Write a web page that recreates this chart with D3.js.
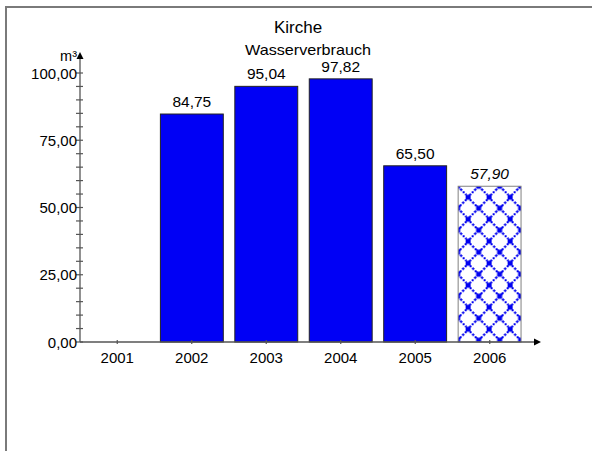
<!DOCTYPE html>
<html>
<head>
<meta charset="utf-8">
<script src="https://cdn.jsdelivr.net/npm/d3@7/dist/d3.min.js"></script>
<style>
  html, body { margin: 0; padding: 0; background: #fff; }
  svg { display: block; font-family: Arial, "Liberation Sans", sans-serif; }
</style>
</head>
<body>
<svg id="chart" width="592" height="451"></svg>
<script>
// Water consumption per year (m³); the last year is a forecast
const years = ["2001", "2002", "2003", "2004", "2005", "2006"];
const values = [null, 84.75, 95.04, 97.82, 65.50, 57.90];
const estimated = [false, false, false, false, false, true];
const yTicks = [0, 25, 50, 75, 100];
const yMinorTicks = d3.range(0, 101, 5);
const title = "Kirche";
const subtitle = "Wasserverbrauch";
const unit = "m³";

const fmt = v => v.toFixed(2).replace(".", ",");

const svg = d3.select("#chart");
const W = 592, H = 451;
const plot = { left: 80, right: 527, top: 73, bottom: 342 };

// outer frame (top and left edges)
svg.append("path")
  .attr("d", `M6,${H} V7 H${W}`)
  .attr("fill", "none")
  .attr("stroke", "#7a7a7a")
  .attr("stroke-width", 2);

const x = d3.scaleBand().domain(years).range([plot.left, plot.right]).paddingInner(0.155).paddingOuter(0.08);
const xc = d3.scalePoint().domain(years).range([plot.left, plot.right]).padding(0.5);
const y = d3.scaleLinear().domain([0, 100]).range([plot.bottom, plot.top]);

// hatch pattern for the forecast bar
const defs = svg.append("defs");
const iEst = estimated.indexOf(true);
const pat = defs.append("pattern")
  .attr("id", "forecast")
  .attr("patternUnits", "userSpaceOnUse")
  .attr("width", 21).attr("height", 22)
  .attr("x", x(years[iEst]) - 0.5).attr("y", y(values[iEst]));
pat.append("rect").attr("width", 21).attr("height", 22).attr("fill", "#fff");
pat.append("path")
  .attr("d", "M0,0 L21,22 M21,0 L0,22")
  .attr("stroke", "#0000f0").attr("stroke-width", 2)
  .attr("stroke-dasharray", "2.4,1.2")
  .attr("shape-rendering", "crispEdges");
[[10.5, 11], [0, 0], [21, 0], [0, 22], [21, 22]].forEach(([cx, cy]) => {
  pat.append("rect").attr("x", cx - 2.5).attr("y", cy - 2.5).attr("width", 5).attr("height", 5).attr("fill", "#0000f0");
});

// titles
svg.append("text").attr("x", 298).attr("y", 33).attr("text-anchor", "middle")
  .attr("font-size", 17).attr("fill", "#000").text(title);
svg.append("text").attr("x", 308).attr("y", 55).attr("text-anchor", "middle")
  .attr("font-size", 15).attr("fill", "#000")
  .attr("textLength", 126).attr("lengthAdjust", "spacingAndGlyphs")
  .text(subtitle);

// bars
const data = years.map((yr, i) => ({ yr, v: values[i], est: estimated[i] })).filter(d => d.v != null);
svg.append("g").selectAll("rect").data(data).join("rect")
  .attr("x", d => x(d.yr))
  .attr("y", d => y(d.v))
  .attr("width", x.bandwidth())
  .attr("height", d => y(0) - y(d.v))
  .attr("fill", d => d.est ? "url(#forecast)" : "#0000f5")
  .attr("stroke", d => d.est ? "#808080" : "#222")
  .attr("stroke-width", 1);

// value labels
svg.append("g").selectAll("text").data(data).join("text")
  .attr("x", d => x(d.yr) + x.bandwidth() / 2)
  .attr("y", d => y(d.v) - 7)
  .attr("text-anchor", "middle")
  .attr("font-size", 15.5)
  .attr("font-style", d => d.est ? "italic" : "normal")
  .attr("fill", "#000")
  .text(d => fmt(d.v));

const axisColor = "#555";

// y axis
const gy = svg.append("g");
gy.append("line").attr("x1", plot.left).attr("x2", plot.left)
  .attr("y1", y(0)).attr("y2", 56).attr("stroke", axisColor).attr("stroke-width", 1.3);
gy.append("path").attr("d", `M${plot.left},52 l-3.5,7 h7 z`).attr("fill", "#000");
gy.selectAll("line.t").data(yMinorTicks).join("line").attr("class", "t")
  .attr("x1", plot.left - 4).attr("x2", plot.left + 3)
  .attr("y1", d => y(d)).attr("y2", d => y(d))
  .attr("stroke", axisColor).attr("stroke-width", 1.2);
gy.selectAll("text").data(yTicks).join("text")
  .attr("x", plot.left - 3).attr("y", d => y(d) + 5.5)
  .attr("text-anchor", "end").attr("font-size", 15).attr("fill", "#000")
  .text(fmt);
svg.append("text").attr("x", plot.left - 3).attr("y", 61).attr("text-anchor", "end")
  .attr("font-size", 14.5).attr("fill", "#000").text(unit);

// x axis
const gx = svg.append("g");
gx.append("line").attr("x1", plot.left).attr("x2", 537)
  .attr("y1", y(0)).attr("y2", y(0)).attr("stroke", axisColor).attr("stroke-width", 1.3);
gx.append("path").attr("d", `M541,${y(0)} l-7,-3.5 v7 z`).attr("fill", "#000");
gx.selectAll("line.t").data(years).join("line").attr("class", "t")
  .attr("x1", d => xc(d)).attr("x2", d => xc(d))
  .attr("y1", y(0) - 2).attr("y2", y(0) + 2)
  .attr("stroke", axisColor).attr("stroke-width", 1.2);
gx.selectAll("text").data(years).join("text")
  .attr("x", d => xc(d)).attr("y", y(0) + 21)
  .attr("text-anchor", "middle").attr("font-size", 15).attr("fill", "#000")
  .text(d => d);
</script>
</body>
</html>
